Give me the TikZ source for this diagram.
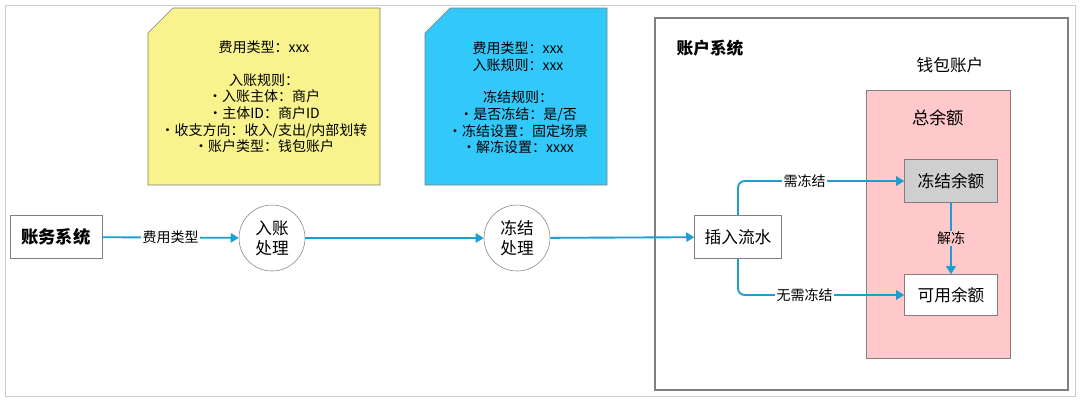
\documentclass[tikz,border=0pt]{standalone}
\usepackage{fontspec}
\setmainfont{Noto Sans CJK SC}
\usetikzlibrary{arrows.meta}
\definecolor{ln}{HTML}{1A9FD0}
\definecolor{yel}{HTML}{F8F38C}
\definecolor{blu}{HTML}{33C8FA}
\definecolor{pnk}{HTML}{FFC8CA}
\definecolor{gbox}{HTML}{CFCFCF}
\definecolor{bd}{HTML}{7F7F7F}
\tikzset{
 box/.style={draw=bd,fill=white,inner sep=0pt,font=\fontsize{12.5}{14}\selectfont},
 circ/.style={draw=bd,circle,minimum size=66*0.75pt,inner sep=0pt,fill=white,align=center,font=\fontsize{12.5}{15}\selectfont},
 arr/.style={draw=ln,line width=1.4pt,-{Triangle[length=6pt,width=7pt]}},
 lbl/.style={font=\fontsize{10.5}{12}\selectfont,fill=white,inner sep=1pt},
 note/.style={align=center,font=\fontsize{10.5}{12.5}\selectfont}
}
\begin{document}
\begin{tikzpicture}[x=0.75pt,y=-0.75pt]
\useasboundingbox (0,0) rectangle (1080,401);
\draw[draw=gray!40] (5,5) rectangle (1075,396);
% notes
\draw[draw=bd,fill=yel] (173,8) -- (380,8) -- (380,185) -- (148,185) -- (148,33) -- cycle;
\node[note] (n1) at (264,97) {费用类型：xxx\\[12pt]入账规则：\\·入账主体：商户\\·主体ID：商户ID\\·收支方向：收入/支出/内部划转\\·账户类型：钱包账户};
\draw[draw=bd,fill=blu] (450,8) -- (607,8) -- (607,185) -- (425,185) -- (425,33) -- cycle;
\node[note] (n2) at (518,98) {费用类型：xxx\\入账规则：xxx\\[12pt]冻结规则：\\·是否冻结：是/否\\·冻结设置：固定场景\\·解冻设置：xxxx};
% account system
\draw[draw=bd,line width=0.8pt] (655,18) rectangle (1068,390);
\node[font=\bfseries\fontsize{12.5}{14}\selectfont] (as) at (710,48) {账户系统};
\node[font=\fontsize{12.5}{14}\selectfont] (wa) at (950,65) {钱包账户};
\draw[draw=bd,fill=pnk] (866,90) rectangle (1010,358);
\node[font=\fontsize{13}{15}\selectfont] (tot) at (938,118) {总余额};
\node[box,fill=gbox,minimum width=93*0.75pt,minimum height=43*0.75pt] (fz) at (951,181) {冻结余额};
\node[box,minimum width=93*0.75pt,minimum height=41*0.75pt] (ky) at (951,295) {可用余额};
\node[box,minimum width=87*0.75pt,minimum height=43*0.75pt] (cr) at (738,237) {插入流水};
% left
\node[box,minimum width=92*0.75pt,minimum height=43*0.75pt,font=\bfseries\fontsize{13}{15}\selectfont] (zw) at (56,237) {账务系统};
\node[circ] (c1) at (272,238) {入账\\处理};
\node[circ] (c2) at (517,238) {冻结\\处理};
\draw[arr] (zw) -- node[lbl]{费用类型} (c1);
\draw[arr] (c1) -- (c2);
\draw[arr] (c2) -- (cr);
\draw[arr,rounded corners=5pt] (cr.north) |- node[lbl,pos=0.7]{需冻结} (fz.west);
\draw[arr,rounded corners=5pt] (cr.south) |- node[lbl,pos=0.7]{无需冻结} (ky.west);
\draw[arr] (fz) -- node[lbl,fill=pnk]{解冻} (ky);
\end{tikzpicture}
\end{document}
